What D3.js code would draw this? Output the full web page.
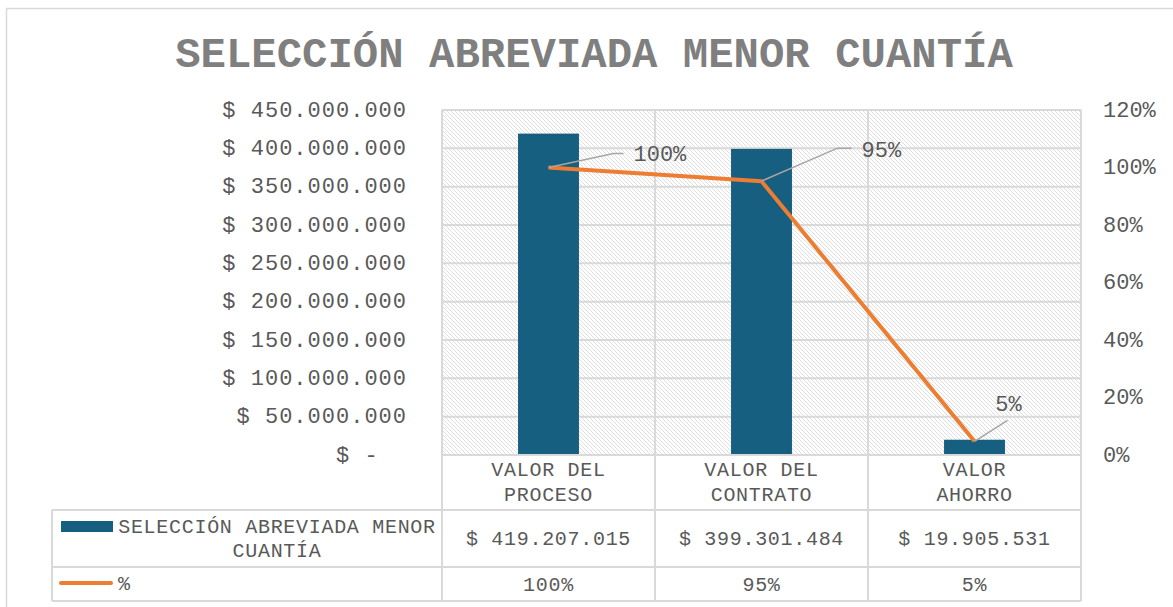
<!DOCTYPE html>
<meta http-equiv="content-type" content="text/html; charset=utf-8">
<style>
body { margin:0; background:#fff; }
text { font-family:"Liberation Mono", "DejaVu Sans Mono", monospace; fill:#595959; white-space:pre; }
.title { font-weight:bold; fill:#7f7f7f; }
.grid line, .tbl line { stroke:#d9d9d9; stroke-width:2; }
</style>
<body>
<div id="chart"></div>
<script src="https://d3js.org/d3.v7.min.js"></script>
<script>
var categories = [["VALOR DEL", "PROCESO"], ["VALOR DEL", "CONTRATO"], ["VALOR", "AHORRO"]];
var montos = [419207015, 399301484, 19905531];
var porcentajes = [100, 95.25, 4.75];
var leftTicks = [0, 50000000, 100000000, 150000000, 200000000, 250000000, 300000000, 350000000, 400000000, 450000000];
var rightTicks = [0, 20, 40, 60, 80, 100, 120];
var serieBarras = "SELECCIÓN ABREVIADA MENOR CUANTÍA";
var serieLinea = "%";

var width = 1173, height = 607;
var pLeft = 442, pRight = 1081, pTop = 110, pBottom = 455;
var rowLines = [455, 510, 567, 601];
var blue = "#175f80", orange = "#ed7d31";

var svg = d3.select("#chart").append("svg")
    .attr("width", width)
    .attr("height", height);

// hatch fill for plot area
var pat = svg.append("defs").append("pattern")
    .attr("id", "hatch")
    .attr("patternUnits", "userSpaceOnUse")
    .attr("width", 4).attr("height", 4);
pat.append("rect").attr("width", 4).attr("height", 4).attr("fill", "#fff");
pat.append("path")
    .attr("d", "M-1,-1 L5,5 M-1,3 L1,5 M3,-1 L5,1")
    .attr("stroke", "#dedede").attr("stroke-width", 1);

// outer chart border
svg.append("rect")
    .attr("x", 6.5).attr("y", 8.5)
    .attr("width", 1200).attr("height", 700)
    .attr("fill", "none").attr("stroke", "#d9d9d9").attr("stroke-width", 1.5);

svg.append("text")
    .attr("class", "title")
    .attr("x", 594).attr("y", 67)
    .attr("text-anchor", "middle")
    .attr("font-size", 42.3)
    .text(serieBarras);

var x = d3.scaleBand()
    .domain(d3.range(categories.length))
    .range([pLeft, pRight]);

var y = d3.scaleLinear()
    .domain([0, 450000000])
    .range([pBottom, pTop]);

var y2 = d3.scaleLinear()
    .domain([0, 120])
    .range([pBottom, pTop]);

svg.append("rect")
    .attr("x", pLeft).attr("y", pTop)
    .attr("width", pRight - pLeft).attr("height", pBottom - pTop)
    .attr("fill", "url(#hatch)");

var grid = svg.append("g").attr("class", "grid");
grid.selectAll("line.h")
  .data(leftTicks)
  .enter().append("line")
    .attr("x1", pLeft).attr("x2", pRight)
    .attr("y1", function(d) { return y(d); })
    .attr("y2", function(d) { return y(d); });
grid.selectAll("line.v")
  .data(d3.range(categories.length + 1))
  .enter().append("line")
    .attr("x1", function(i) { return pLeft + i * x.step(); })
    .attr("x2", function(i) { return pLeft + i * x.step(); })
    .attr("y1", pTop).attr("y2", rowLines[3]);

var fMiles = function(v) {
  if (v === 0) return "$ -  ";
  return "$ " + d3.format(",")(v).replace(/,/g, ".");
};

// left axis
var axL = svg.append("g")
    .attr("transform", "translate(407,-1)")
    .call(d3.axisLeft(y).tickValues(leftTicks).tickSize(0).tickPadding(0).tickFormat(fMiles));
axL.select(".domain").remove();
axL.selectAll("text")
    .attr("font-size", 22).attr("letter-spacing", 1).attr("fill", "#5f5f5f")
    .attr("font-family", "Liberation Mono");

// right axis
var axR = svg.append("g")
    .attr("transform", "translate(1103,-1)")
    .call(d3.axisRight(y2).tickValues(rightTicks).tickSize(0).tickPadding(0)
      .tickFormat(function(d) { return d + "%"; }));
axR.select(".domain").remove();
axR.selectAll("text")
    .attr("font-size", 22).attr("fill", "#5f5f5f")
    .attr("font-family", "Liberation Mono");

// bars
var barW = x.bandwidth() * 0.286;
svg.selectAll("rect.bar")
  .data(montos)
  .enter().append("rect")
    .attr("class", "bar")
    .attr("x", function(d, i) { return x(i) + (x.bandwidth() - barW) / 2; })
    .attr("width", barW)
    .attr("y", function(d) { return y(d); })
    .attr("height", function(d) { return y(0) - y(d); })
    .attr("fill", blue);

// line
var cx = function(i) { return x(i) + x.bandwidth() / 2; };
var line = d3.line()
    .x(function(d, i) { return cx(i); })
    .y(function(d) { return y2(d); });
svg.append("path")
    .datum(porcentajes)
    .attr("d", line)
    .attr("fill", "none")
    .attr("stroke", orange)
    .attr("stroke-width", 4)
    .attr("stroke-linejoin", "round");

// data labels with leader lines (offsets from each point)
var leaders = [[[65, -14], [75, -14]], [[76, -33], [90, -33]], [[33, -21]]];
var labelOff = [[85, -14], [100, -32], [34, -38]];
var fPct = function(v) { return Math.round(v) + "%"; };
porcentajes.forEach(function(v, i) {
  var px = cx(i), py = y2(v);
  var pts = [[px, py]].concat(leaders[i].map(function(o) { return [px + o[0], py + o[1]]; }));
  svg.append("path")
      .attr("d", d3.line()(pts))
      .attr("fill", "none").attr("stroke", "#a6a6a6").attr("stroke-width", 1.5);
  svg.append("text")
      .attr("x", px + labelOff[i][0]).attr("y", py + labelOff[i][1])
      .attr("dy", "0.35em")
      .attr("text-anchor", i == 2 ? "middle" : "start")
      .attr("font-size", 22)
      .text(fPct(v));
});

// data table
var tbl = svg.append("g").attr("class", "tbl");
tbl.selectAll("line.r")
  .data(rowLines)
  .enter().append("line")
    .attr("x1", function(d, i) { return i == 0 ? pLeft : 52; })
    .attr("x2", pRight)
    .attr("y1", function(d) { return d; })
    .attr("y2", function(d) { return d; });
tbl.append("line")
    .attr("x1", 52).attr("x2", 52)
    .attr("y1", rowLines[1]).attr("y2", rowLines[3]);

categories.forEach(function(c, i) {
  c.forEach(function(t, k) {
    tbl.append("text")
        .attr("x", cx(i)).attr("y", 469 + k * 25)
        .attr("dy", "0.35em")
        .attr("text-anchor", "middle")
        .attr("font-size", 20).attr("letter-spacing", 0.7)
        .text(t);
  });
});
montos.forEach(function(v, i) {
  tbl.append("text")
      .attr("x", cx(i)).attr("y", 538)
      .attr("dy", "0.35em")
      .attr("text-anchor", "middle")
      .attr("font-size", 20).attr("letter-spacing", 0.7)
      .text(fMiles(v));
});
porcentajes.forEach(function(v, i) {
  tbl.append("text")
      .attr("x", cx(i)).attr("y", 584)
      .attr("dy", "0.35em")
      .attr("text-anchor", "middle")
      .attr("font-size", 20).attr("letter-spacing", 0.7)
      .text(fPct(v));
});

// legend keys in the table
tbl.append("rect")
    .attr("x", 61).attr("y", 521).attr("width", 52).attr("height", 11)
    .attr("fill", blue);
var words = serieBarras.split(" ");
[words.slice(0, 3).join(" "), words.slice(3).join(" ")].forEach(function(t, k) {
  tbl.append("text")
      .attr("x", 277).attr("y", 526 + k * 24)
      .attr("dy", "0.35em")
      .attr("text-anchor", "middle")
      .attr("font-size", 20).attr("letter-spacing", 0.7)
      .text(t);
});
tbl.append("line")
    .attr("x1", 61).attr("x2", 111).attr("y1", 583).attr("y2", 583)
    .style("stroke", orange).style("stroke-width", 4).style("stroke-linecap", "round");
tbl.append("text")
    .attr("x", 118).attr("y", 583)
    .attr("dy", "0.35em")
    .attr("font-size", 20)
    .text(serieLinea);
</script>
</body>
</html>
